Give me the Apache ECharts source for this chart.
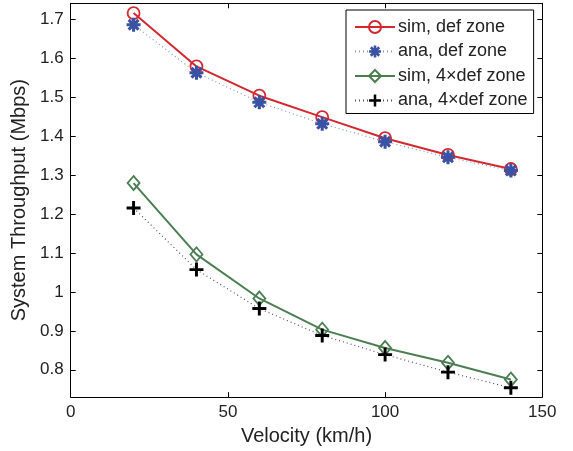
<!DOCTYPE html>
<html>
<head>
<meta charset="utf-8">
<script src="https://cdn.jsdelivr.net/npm/echarts@6/dist/echarts.min.js"></script>
<style>
html,body{margin:0;padding:0;background:#fff;}
#chart{width:573px;height:451px;}
</style>
</head>
<body>
<div id="chart"></div>
<script>
const velocity = [20, 40, 60, 80, 100, 120, 140];
const simDef = [1.715, 1.578, 1.503, 1.448, 1.394, 1.351, 1.315];
const anaDef = [1.685, 1.562, 1.486, 1.431, 1.385, 1.345, 1.311];
const sim4Def = [1.279, 1.096, 0.983, 0.903, 0.856, 0.818, 0.775];
const ana4Def = [1.215, 1.057, 0.957, 0.888, 0.839, 0.794, 0.754];
const seriesNames = ['sim, def zone', 'ana, def zone', 'sim, 4\u00d7def zone', 'ana, 4\u00d7def zone'];
const yTicks = [0.8, 0.9, 1, 1.1, 1.2, 1.3, 1.4, 1.5, 1.6, 1.7];
const xTicks = [0, 50, 100, 150];

const FONT = 'Liberation Sans';
const pts = (ys) => velocity.map((v, i) => [v, ys[i]]);

const asterisk = 'path://M-10,-2.2L10,-2.2L10,2.2L-10,2.2Z' +
  'M2.2,-10L2.2,10L-2.2,10L-2.2,-10Z' +
  'M8.6,5.5L5.5,8.6L-8.6,-5.5L-5.5,-8.6Z' +
  'M5.5,-8.6L8.6,-5.5L-5.5,8.6L-8.6,5.5Z';
const plus = 'path://M-10,-2.1L10,-2.1L10,2.1L-10,2.1Z' +
  'M2.1,-10L2.1,10L-2.1,10L-2.1,-10Z';

const chart = echarts.init(document.getElementById('chart'), null, {renderer: 'canvas'});

const axisLineStyle = {color: '#000', width: 1};
const tickStyle = {show: true, inside: true, length: 5, lineStyle: {color: '#000', width: 1}};

chart.setOption({
  animation: false,
  backgroundColor: '#fff',
  textStyle: {fontFamily: FONT},
  grid: {left: 70.7, right: 30.7, top: 3.3, bottom: 53, containLabel: false},
  legend: {
    orient: 'vertical',
    left: 346,
    top: 10,
    padding: [8, 6, 4, 8],
    itemGap: 6.5,
    itemWidth: 40,
    itemHeight: 15,
    borderColor: '#000',
    borderWidth: 1,
    borderRadius: 0,
    backgroundColor: '#fff',
    textStyle: {fontFamily: FONT, fontSize: 18, color: '#222', lineHeight: 17, padding: [0, 0, 0, -2]},
    data: seriesNames
  },
  xAxis: [{
    type: 'value', min: 0, max: 150, interval: 50,
    position: 'bottom',
    name: 'Velocity (km/h)', nameLocation: 'middle', nameGap: 25,
    nameTextStyle: {fontFamily: FONT, fontSize: 20, color: '#222'},
    axisLine: {show: true, onZero: false, lineStyle: axisLineStyle},
    axisTick: tickStyle,
    axisLabel: {fontFamily: FONT, fontSize: 17, color: '#222', margin: 7},
    splitLine: {show: false}
  }, {
    type: 'value', min: 0, max: 150, interval: 50,
    position: 'top',
    axisLine: {show: true, onZero: false, lineStyle: axisLineStyle},
    axisTick: tickStyle,
    axisLabel: {show: false},
    splitLine: {show: false}
  }],
  yAxis: [{
    type: 'value', min: 0.73, max: 1.74,
    position: 'left',
    name: 'System Throughput (Mbps)', nameLocation: 'middle', nameGap: 38,
    nameTextStyle: {fontFamily: FONT, fontSize: 20, color: '#222'},
    axisLine: {show: true, onZero: false, lineStyle: axisLineStyle},
    axisTick: Object.assign({customValues: yTicks}, tickStyle),
    axisLabel: {customValues: yTicks, fontFamily: FONT, fontSize: 17, color: '#222', margin: 7,
      formatter: (v) => String(Math.round(v * 10) / 10)},
    splitLine: {show: false}
  }, {
    type: 'value', min: 0.73, max: 1.74,
    position: 'right',
    axisLine: {show: true, onZero: false, lineStyle: axisLineStyle},
    axisTick: Object.assign({customValues: yTicks}, tickStyle),
    axisLabel: {show: false},
    splitLine: {show: false}
  }],
  series: [{
    name: seriesNames[0], type: 'line', data: pts(simDef),
    symbol: 'circle', symbolSize: 12,
    lineStyle: {color: '#d22830', width: 2},
    itemStyle: {color: 'rgba(255,255,255,0)', borderColor: '#d22830', borderWidth: 1.8},
    z: 2
  }, {
    name: seriesNames[1], type: 'line', data: pts(anaDef),
    symbol: asterisk, symbolSize: 14,
    lineStyle: {color: '#8797cc', width: 1.2, type: [1, 3]},
    itemStyle: {color: '#3a52a3', borderWidth: 0},
    z: 3
  }, {
    name: seriesNames[2], type: 'line', data: pts(sim4Def),
    symbol: 'diamond', symbolSize: [12, 14],
    lineStyle: {color: '#4b7f52', width: 2},
    itemStyle: {color: 'rgba(255,255,255,0)', borderColor: '#4b7f52', borderWidth: 1.8},
    z: 4
  }, {
    name: seriesNames[3], type: 'line', data: pts(ana4Def),
    symbol: plus, symbolSize: 14,
    lineStyle: {color: '#555', width: 1.2, type: [1, 3]},
    itemStyle: {color: '#000', borderWidth: 0},
    z: 5
  }]
});
</script>
</body>
</html>
